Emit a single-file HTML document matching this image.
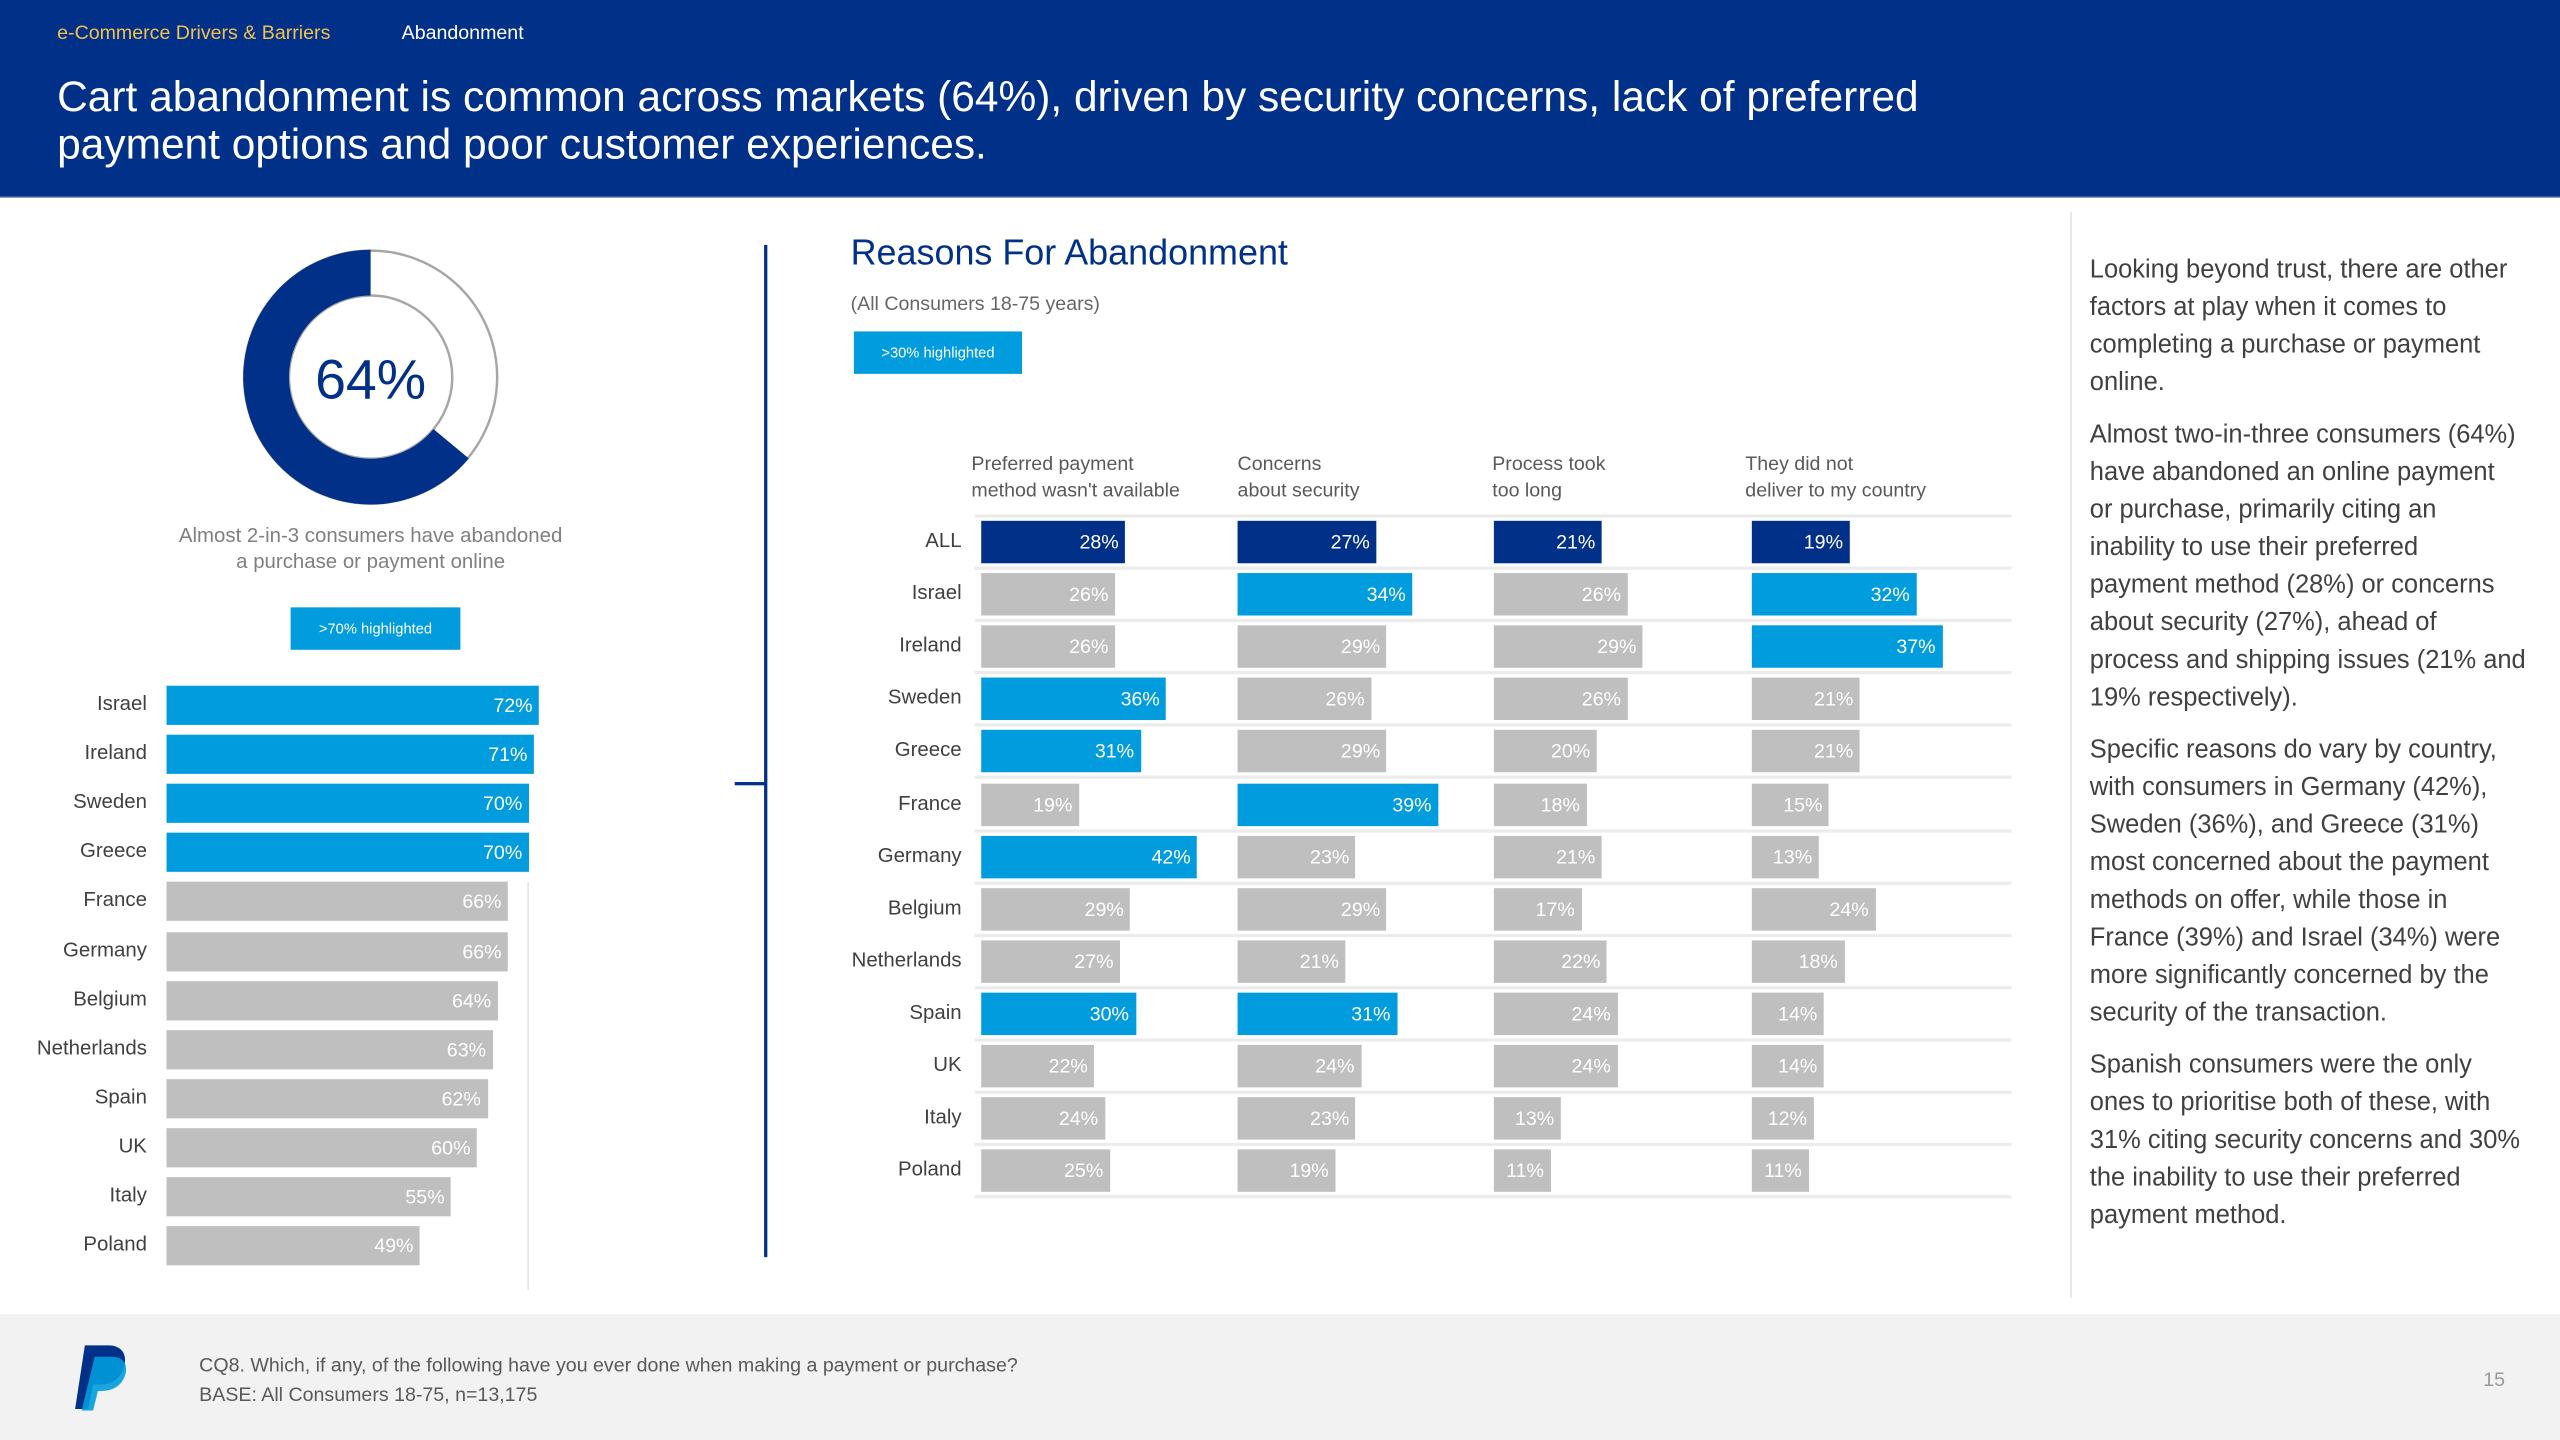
<!DOCTYPE html>
<html><head><meta charset="utf-8">
<style>
html,body{margin:0;padding:0;background:#fff;}
body{width:2560px;height:1440px;overflow:hidden;font-family:"Liberation Sans",sans-serif;}
#stage{position:absolute;left:0;top:0;width:1568px;height:882px;transform:scale(1.632653);transform-origin:0 0;}
.abs{position:absolute;}
.t{position:absolute;white-space:nowrap;}
</style></head>
<body>
<div id="stage">
  <div class="abs" style="left:0;top:0;width:1568px;height:120px;background:#003087;border-bottom:1px solid #3a5a9a;"></div>
  <div class="t" style="left:35px;top:13px;font-size:12px;color:#f2c14e;">e-Commerce Drivers &amp; Barriers</div>
  <div class="t" style="left:246px;top:13px;font-size:12px;color:#fff;">Abandonment</div>
  <div class="abs" style="left:35px;top:45px;font-size:26px;line-height:29px;color:#fff;width:1250px;">Cart abandonment is common across markets (64%), driven by security concerns, lack of preferred<br>payment options and poor customer experiences.</div>

  <svg class="abs" style="left:0;top:0" width="470" height="320">
    <circle cx="227" cy="231" r="77.5" fill="none" stroke="#a6a6a6" stroke-width="1.5"/>
    <circle cx="227" cy="231" r="50" fill="none" stroke="#a6a6a6" stroke-width="1.5"/>
    <path id="donut-arc" fill="#003087"/>
    <text x="227" y="244" text-anchor="middle" font-size="34" fill="#003087" font-family="Liberation Sans">64%</text>
  </svg>
  <div class="abs" style="left:77px;top:321px;width:300px;text-align:center;font-size:12.5px;line-height:15.5px;color:#7f7f7f;">Almost 2-in-3 consumers have abandoned<br>a purchase or payment online</div>
  <div class="abs" style="left:178px;top:372px;width:104px;height:26px;background:#009cde;color:#fff;font-size:9px;line-height:26px;text-align:center;">&gt;70% highlighted</div>
  <div class="abs" style="left:323px;top:540px;width:1px;height:250px;background:#e6e6e6;"></div>
  <div id="leftChart"></div>

  <div class="abs" style="left:468px;top:150px;width:2px;height:620px;background:#003087;"></div>
  <div class="abs" style="left:450px;top:479px;width:19px;height:2px;background:#003087;"></div>

  <div class="t" style="left:521px;top:142px;font-size:22px;color:#003087;">Reasons For Abandonment</div>
  <div class="t" style="left:521px;top:179px;font-size:12px;color:#666;">(All Consumers 18-75 years)</div>
  <div class="abs" style="left:523px;top:203px;width:103px;height:26px;background:#009cde;color:#fff;font-size:9px;line-height:26px;text-align:center;">&gt;30% highlighted</div>
  <div id="rightChart"></div>

  <div class="abs" style="left:1268px;top:130px;width:1px;height:665px;background:#e3e3e3;"></div>
  <div class="abs" style="left:1280px;top:154px;width:285px;font-size:15.6px;line-height:23px;color:#404040;white-space:nowrap;">
    <p style="margin:0 0 9px 0">Looking beyond trust, there are other<br>factors at play when it comes to<br>completing a purchase or payment<br>online.</p>
    <p style="margin:0 0 9px 0">Almost two-in-three consumers (64%)<br>have abandoned an online payment<br>or purchase, primarily citing an<br>inability to use their preferred<br>payment method (28%) or concerns<br>about security (27%), ahead of<br>process and shipping issues (21% and<br>19% respectively).</p>
    <p style="margin:0 0 9px 0">Specific reasons do vary by country,<br>with consumers in Germany (42%),<br>Sweden (36%), and Greece (31%)<br>most concerned about the payment<br>methods on offer, while those in<br>France (39%) and Israel (34%) were<br>more significantly concerned by the<br>security of the transaction.</p>
    <p style="margin:0">Spanish consumers were the only<br>ones to prioritise both of these, with<br>31% citing security concerns and 30%<br>the inability to use their preferred<br>payment method.</p>
  </div>

  <div class="abs" style="left:0;top:805px;width:1568px;height:77px;background:#f2f2f2;"></div>
  <svg class="abs" style="left:44px;top:824px" width="36" height="40" viewBox="0 0 36 40">
    <path d="M8 0 H22 C31 0 34 6 32 13 C30 21 24 24 17 24 H13 L10 39 H2 Z" fill="#003087"/>
    <path d="M14 7 H24 C32 7 34 12 33 17 C31 25 25 28 18 28 H16 L13 40 H6 Z" fill="#009cde" opacity="0.9"/>
  </svg>
  <div class="abs" style="left:122px;top:827px;font-size:12px;line-height:18px;color:#595959;white-space:nowrap;">CQ8. Which, if any, of the following have you ever done when making a payment or purchase?<br>BASE: All Consumers 18-75, n=13,175</div>
  <div class="t" style="left:1521px;top:838px;font-size:12px;color:#999;">15</div>
</div>

<script>
// ---- donut data ----
const donutValue = [64];

// ---- left chart data ----
const leftCountries = ["Israel","Ireland","Sweden","Greece","France","Germany","Belgium","Netherlands","Spain","UK","Italy","Poland"];
const leftValues = [72,71,70,70,66,66,64,63,62,60,55,49];
const leftThreshold = 70;

// ---- right chart data ----
const rightRows = ["ALL","Israel","Ireland","Sweden","Greece","France","Germany","Belgium","Netherlands","Spain","UK","Italy","Poland"];
const rightHeaders = [["Preferred payment","method wasn't available"],["Concerns","about security"],["Process took","too long"],["They did not","deliver to my country"]];
const seriesPayment = [28,26,26,36,31,19,42,29,27,30,22,24,25];
const seriesSecurity = [27,34,29,26,29,39,23,29,21,31,24,23,19];
const seriesProcess = [21,26,29,26,20,18,21,17,22,24,24,13,11];
const seriesDelivery = [19,32,37,21,21,15,13,24,18,14,14,12,11];
const rightThreshold = 30;

// donut
(function(){
  const cx=227, cy=231, R=78, r=50;
  const frac = donutValue[0]/100;
  const a0 = -Math.PI/2, a1 = a0 - frac*2*Math.PI; // counter-clockwise
  const p=(rad,a)=>[cx+rad*Math.cos(a), cy+rad*Math.sin(a)];
  const large = frac>0.5?1:0;
  const [x0,y0]=p(R,a0),[x1,y1]=p(R,a1),[x2,y2]=p(r,a1),[x3,y3]=p(r,a0);
  const d=`M${x0} ${y0} A${R} ${R} 0 ${large} 0 ${x1} ${y1} L${x2} ${y2} A${r} ${r} 0 ${large} 1 ${x3} ${y3} Z`;
  document.getElementById('donut-arc').setAttribute('d', d);
})();

function div(parent, css, text){
  const e=document.createElement('div');
  e.style.cssText='position:absolute;'+css;
  if(text!==undefined) e.textContent=text;
  parent.appendChild(e);
  return e;
}

// left chart
(function(){
  const host=document.getElementById('leftChart');
  const x0=102, y0=432, step=30.1, h=24, pxPer=3.17;
  const xScale=v=>v*pxPer;
  const yScale=i=>y0+i*step;
  leftCountries.forEach((c,i)=>{
    const y=yScale(i);
    const lab=div(host,`left:0;width:90px;top:${y-8}px;text-align:right;font-size:12.5px;color:#404040;`,c);
    
    
    const w=xScale(leftValues[i]);
    const bar=div(host,`left:${x0}px;top:${y-h/2}px;width:${w}px;height:${h}px;background:${leftValues[i]>=leftThreshold?'#009cde':'#bfbfbf'};`);
    
    
    const v=div(bar,`right:4px;top:0;line-height:${h}px;font-size:12px;color:#fff;`,leftValues[i]+'%');
    
    
  });
})();

// right chart
(function(){
  const host=document.getElementById('rightChart');
  const series=[seriesPayment,seriesSecurity,seriesProcess,seriesDelivery];
  const colX=[601,758,915,1073];
  const headX=[595,758,914,1069];
  const y0=332, step=32.1, h=26, pxPer=3.15;
  const xScale=v=>v*pxPer;
  const yScale=i=>y0+i*step;
  rightHeaders.forEach((hd,j)=>{
    const e=div(host,`left:${headX[j]}px;top:277px;font-size:12px;line-height:15.5px;color:#595959;white-space:nowrap;`);
    e.innerHTML=hd[0]+'<br>'+hd[1];
    
    
  });
  for(let i=0;i<=rightRows.length;i++){
    const y=yScale(i)-step/2;
    const g=div(host,`left:597px;top:${y-1}px;width:635px;height:2px;background:#ececec;`);
    
    
  }
  rightRows.forEach((r,i)=>{
    const y=yScale(i);
    const lab=div(host,`left:480px;width:109px;top:${y-8}px;text-align:right;font-size:12.5px;color:#404040;`,r);
    
    
    series.forEach((s,j)=>{
      const val=s[i];
      const col=i===0?'#003087':(val>=rightThreshold?'#009cde':'#bfbfbf');
      const bar=div(host,`left:${colX[j]}px;top:${y-h/2}px;width:${xScale(val)}px;height:${h}px;background:${col};`);
      
      
      const v=div(bar,`right:4px;top:0;line-height:${h}px;font-size:12px;color:#fff;`,val+'%');
      
      
    });
  });
})();
</script>
</body></html>
